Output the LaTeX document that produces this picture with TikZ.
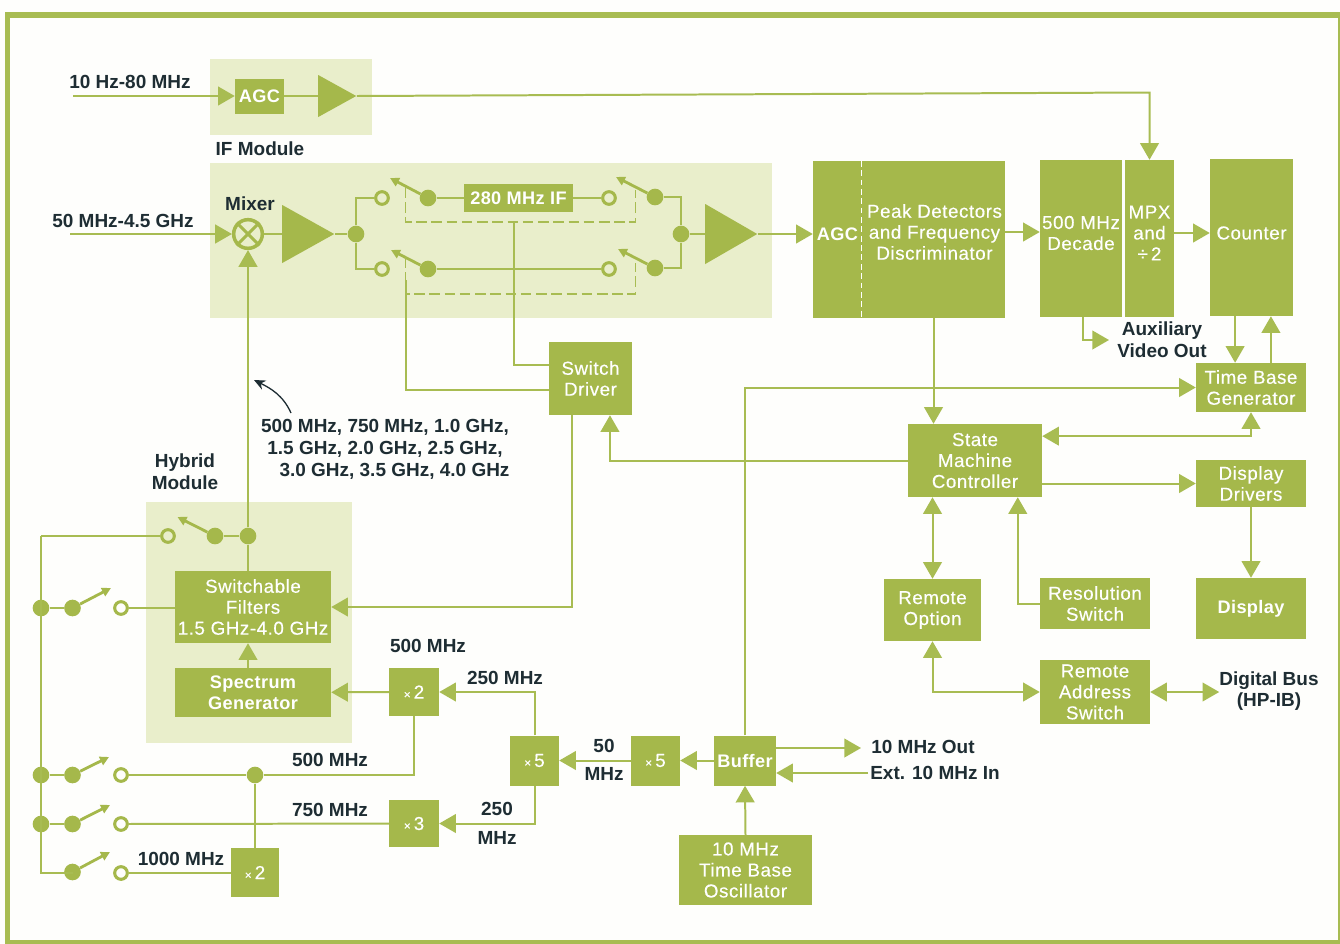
\documentclass[tikz,border=0pt]{standalone}
\usepackage{fontspec}
\setmainfont{Liberation Sans}
\newfontfamily\tagfont{Liberation Sans}[LetterSpace=3, FakeBold=0.4]
\newfontfamily\heavyfont{Liberation Sans}[LetterSpace=2]
\usepackage{xcolor}
\usetikzlibrary{arrows.meta, shapes.geometric, calc}

\definecolor{leafgreen}{HTML}{A5B84B}
\definecolor{wiregreen}{HTML}{A8BC52}
\definecolor{palegreen}{HTML}{E9EECB}
\definecolor{papercream}{HTML}{FEFEFC}
\definecolor{inkdark}{HTML}{1E2D33}

\tikzset{
    wh/.style 2 args={minimum width=#1*0.03cm, minimum height=#2*0.03cm},
    block/.style={fill=leafgreen, text=white, inner sep=0pt, align=center,
        font=\tagfont\fontsize{16}{17.9}\selectfont},
    blocktext/.style={text=white, inner sep=0pt, align=center,
        font=\tagfont\fontsize{16}{17.9}\selectfont},
    heavy/.style={font=\heavyfont\bfseries\fontsize{15.5}{17.9}\selectfont},
    tag/.style={text=inkdark, inner sep=0pt, align=center,
        font=\bfseries\fontsize{16.2}{18.5}\selectfont},
    band/.style={fill=palegreen, inner sep=0pt},
    wire/.style={draw=wiregreen, line width=1.7pt},
    gang/.style={draw=wiregreen, line width=1.6pt, dash pattern=on 9pt off 4pt},
    junct/.style={circle, fill=leafgreen, inner sep=0pt, minimum size=5mm},
    ring/.style={circle, draw=leafgreen, line width=2.6pt, inner sep=0pt, minimum size=3.8mm},
    lever/.style={draw=leafgreen, line width=2.4pt, -{Triangle[length=2.7mm,width=2.7mm]}},
    ampl/.style={isosceles triangle, isosceles triangle stretches, fill=leafgreen,
        inner sep=0pt, anchor=lower side},
}

\begin{document}
\begin{tikzpicture}[x=0.03cm, y=-0.03cm, >={Triangle[length=5mm,width=5.6mm]}]
    \useasboundingbox (0,0) rectangle (1340,943);
    \fill[papercream] (0,0) rectangle (1340,943);
    \draw[wiregreen, line width=4.4pt] (7.5,15) rectangle (1340.5,942.5);

    % Fondos de los modulos
    \node[band, wh={162}{76}] (ifband) at (291,97) {};
    \node[band, wh={562}{155}] (mainband) at (491,240.5) {};
    \node[band, wh={206}{241}] (hybband) at (249,622.5) {};

    % Modulo IF
    \node[tag] (inif) at (130,81.5) {10 Hz-80 MHz};
    \coordinate (inifend) at (73,96);
    \node[block, heavy, wh={49}{35}] (agcif) at (259.5,96) {AGC};
    \node[ampl, wh={42}{38}] (ampif) at (318,96) {};
    \node[tag] (iflab) at (260,149) {IF Module};
    \coordinate (mpxturn) at (1149.5,92.5);

    % Canal principal
    \node[tag] (inmain) at (123,221) {50 MHz-4.5 GHz};
    \coordinate (inmainend) at (70,234);
    \node[tag] (mixlab) at (250,204) {Mixer};
    \node[circle, draw=leafgreen, line width=3pt, inner sep=0pt, minimum size=8.6mm] (mixer) at (248,234) {};
    \node[ampl, wh={58}{52}] (ampa) at (282,234) {};
    \node[junct] (junl) at (356,234) {};
    \node[ring] (ringul) at (382,198) {};
    \node[junct] (poleul) at (428,198) {};
    \coordinate (tipul) at (390,178);
    \node[ring] (ringll) at (382,269) {};
    \node[junct] (polell) at (428,269) {};
    \coordinate (tipll) at (391,250);
    \node[block, heavy, wh={109}{28}] (ifbox) at (518.5,198) {280 MHz IF};
    \node[ring] (ringur) at (609,198) {};
    \node[junct] (poleur) at (655,197) {};
    \coordinate (tipur) at (616,177);
    \node[ring] (ringlr) at (609,269) {};
    \node[junct] (polelr) at (655,268) {};
    \coordinate (tiplr) at (618,249);
    \node[junct] (junr) at (681,234) {};
    \node[ampl, wh={60}{52}] (ampb) at (705,234) {};

    % Detectores y contador
    \node[block, heavy, wh={49}{157}] (agcdet) at (837.5,239.5) {};
    \node[block, wh={143}{157}] (peak) at (933.5,239.5) {};
    \node[blocktext, heavy] (agclab) at (837.5,234) {AGC};
    \node[blocktext] (peaklab) at (934.5,232) {Peak Detectors\\and Frequency\\Discriminator};
    \node[block, wh={82}{157}] (decade) at (1081,238.5) {};
    \node[blocktext] (decadelab) at (1081,233) {500 MHz\\Decade};
    \node[block, wh={49}{157}] (mpx) at (1149.5,238.5) {};
    \node[blocktext] (mpxlab) at (1149.5,233) {MPX\\and\\÷\,2};
    \node[block, wh={83}{157}] (counter) at (1251.5,237.5) {};
    \node[blocktext] (counterlab) at (1251.5,233) {Counter};
    \node[tag] (auxlab) at (1162,340) {Auxiliary\\Video Out};
    \coordinate (auxend) at (1109,340);
    \node[block, wh={110}{49}] (tbase) at (1251,387.5) {Time Base\\Generator};
    \node[block, wh={134}{73}] (state) at (975,460.5) {State\\Machine\\Controller};
    \node[block, wh={83}{73}] (swdrv) at (590.5,378.5) {Switch\\Driver};
    \node[block, wh={110}{47}] (drivers) at (1251,483.5) {Display\\Drivers};
    \node[block, heavy, wh={110}{61}] (display) at (1251,608.5) {Display};
    \node[block, wh={110}{51}] (resol) at (1095,603.5) {Resolution\\Switch};
    \node[block, wh={97}{62}] (remote) at (932.5,610) {Remote\\Option};
    \node[block, wh={110}{64}] (addr) at (1095,692) {Remote\\Address\\Switch};
    \node[tag] (buslab) at (1269,691) {Digital Bus\\(HP-IB)};

    % Modulo hibrido
    \node[tag] (hyblab) at (185,471.5) {Hybrid\\Module};
    \node[tag] (harmlab) at (385,449.5) {500 MHz, 750 MHz, 1.0 GHz,\\1.5 GHz, 2.0 GHz, 2.5 GHz,\\\hspace*{1em}3.0 GHz, 3.5 GHz, 4.0 GHz};
    \coordinate (notestart) at (291,413);
    \coordinate (noteend) at (254,380);
    \node[ring] (ringh) at (168,536) {};
    \node[junct] (poleh) at (215,536) {};
    \coordinate (tiph) at (177.5,517);
    \node[junct] (junh) at (248,536) {};
    \node[block, wh={156}{72}] (filters) at (253,607) {Switchable\\Filters\\1.5 GHz-4.0 GHz};
    \node[block, heavy, wh={156}{49}] (spectrum) at (253,692.5) {Spectrum\\Generator};

    % Multiplicadores
    \node[block, wh={50}{48}] (dblb) at (414,692) {{\fontsize{10}{10}\selectfont ×}\,2};
    \node[block, wh={50}{47}] (triple) at (414,823.5) {{\fontsize{10}{10}\selectfont ×}\,3};
    \node[block, wh={48}{49}] (dbla) at (255,872.5) {{\fontsize{10}{10}\selectfont ×}\,2};
    \node[block, wh={49}{50}] (quinb) at (534.5,760.5) {{\fontsize{10}{10}\selectfont ×}\,5};
    \node[block, wh={49}{50}] (quina) at (655.5,760.5) {{\fontsize{10}{10}\selectfont ×}\,5};
    \node[block, heavy, wh={62}{50}] (buffer) at (745,760.5) {Buffer};
    \node[block, wh={133}{70}] (osc) at (745.5,870) {10 MHz\\Time Base\\Oscillator};
    \node[tag] (mhzb) at (428,646) {500 MHz};
    \node[tag] (mhzc) at (505,678) {250 MHz};
    \node[tag] (mhzd) at (330,760) {500 MHz};
    \node[tag] (mhze) at (330,810) {750 MHz};
    \node[tag] (mhzf) at (181,859) {1000 MHz};
    \node[tag] (mhzg) at (497,823.5) {250\\[6pt]MHz};
    \node[tag] (mhzh) at (604,760) {50\\[6pt]MHz};
    \node[tag] (outlab) at (923,747) {10 MHz Out};
    \node[tag] (extlab) at (935,773) {Ext. 10 MHz In};
    \coordinate (bufout) at (861,748);
    \coordinate (bufin) at (868,773);

    % Conmutadores de la izquierda
    \node[junct] (busa) at (41,608) {};
    \node[junct] (busb) at (41,775) {};
    \node[junct] (busc) at (41,824) {};
    \coordinate (busd) at (41,873);
    \coordinate (bustop) at (41,536);
    \node[junct] (polea) at (72.5,608) {};
    \node[junct] (poleb) at (72.5,775) {};
    \node[junct] (polec) at (72.5,824) {};
    \node[junct] (poled) at (72.5,872) {};
    \node[ring] (ringa) at (121,608) {};
    \node[ring] (ringb) at (121,775) {};
    \node[ring] (ringc) at (121,824) {};
    \node[ring] (ringd) at (121,873) {};
    \coordinate (tipa) at (111,588);
    \coordinate (tipb) at (109,757);
    \coordinate (tipc) at (110,805);
    \coordinate (tipd) at (110,852);
    \node[junct] (tap) at (255,775) {};

    % Flechas del canal principal
    \draw[->, wire] (inifend) -- (agcif);
    \draw[wire] (agcif) -- (ampif.lower side);
    \draw[->, wire] (ampif.apex) -- (mpxturn) -- (mpx.north);
    \draw[->, wire] (inmainend) -- (mixer);
    \draw[wire] (mixer) -- (ampa.lower side);
    \draw[wire] (ampa.apex) -- (junl);
    \draw[wire] (junl) |- (ringul);
    \draw[wire] (junl) |- (ringll);
    \draw[wire] (poleul) -- (ifbox);
    \draw[wire] (ifbox) -- (ringur);
    \draw[wire] (polell) -- (ringlr);
    \draw[wire] (poleur) -| (junr);
    \draw[wire] (polelr) -| (junr);
    \draw[wire] (junr) -- (ampb.lower side);
    \draw[->, wire] (ampb.apex) -- (ampb.apex -| agcdet.west);
    \draw[leafgreen, line width=2.6pt] (mixer.45) -- (mixer.225);
    \draw[leafgreen, line width=2.6pt] (mixer.135) -- (mixer.315);

    % Palancas
    \foreach \p/\t in {poleul/tipul, polell/tipll, poleur/tipur, polelr/tiplr,
        poleh/tiph, polea/tipa, poleb/tipb, polec/tipc, poled/tipd}
        \draw[lever] (\p) -- (\t);

    % Enlaces punteados de los conmutadores
    \coordinate (ganga) at (405.5,187);
    \coordinate (gangb) at (635.5,190);
    \coordinate (gangc) at (405.5,257);
    \coordinate (gangd) at (635.5,263);
    \coordinate (gangmid) at (514,222);
    \coordinate (gangfoot) at (405.5,280);
    \draw[gang] (ganga) -- (405.5,222) -- (635.5,222) -- (gangb);
    \draw[gang] (gangc) -- (405.5,294) -- (635.5,294) -- (gangd);
    \draw[wire] (gangmid) |- ([yshift=11.5pt]swdrv.west);
    \draw[wire] (gangfoot) |- ([yshift=-9.8pt]swdrv.west);

    % Detectores, contador y controlador
    \draw[white, line width=1.2pt, dash pattern=on 5pt off 3pt] (peak.north west) -- (peak.south west);
    \draw[->, wire] (peaklab -| peak.east) -- (peaklab -| decade.west);
    \draw[->, wire] (mpxlab -| mpx.east) -- (mpxlab -| counter.west);
    \draw[->, wire] ([xshift=1.7pt]decade.south) |- (auxend);
    \draw[->, wire] ([xshift=-14pt]counter.south) -- ([xshift=-14pt]counter.south |- tbase.north);
    \draw[->, wire] ([xshift=17pt]tbase.north) -- ([xshift=17pt]tbase.north |- counter.south);
    \draw[->, wire] (peak.south) -- (peak.south |- state.north);
    \draw[<->, wire] ([yshift=20.8pt]state.east) -| (tbase.south);
    \draw[->, wire] (state.east |- drivers.west) -- (drivers.west);
    \draw[->, wire] (drivers.south) -- (display.north);
    \draw[->, wire] (resol.west) -| ([xshift=36.5pt]state.south);
    \draw[<->, wire] (remote.north) -- (remote.north |- state.south);
    \draw[<->, wire] (remote.south) |- (addr.west);
    \draw[<->, wire] (addr.east) -- (addr.east -| buslab.west);
    \draw[->, wire] (state.west) -| ([xshift=16.6pt]swdrv.south);
    \draw[->, wire] (buffer.north) |- (tbase.west);

    % Flechas del modulo hibrido
    \draw[->, wire] (junh) -- (mixer);
    \draw[wire] (poleh) -- (junh);
    \draw[wire] (junh) -- (junh |- filters.north);
    \draw[->, wire] (junh |- spectrum.north) -- (junh |- filters.south);
    \draw[->, wire] ([xshift=-15.7pt]swdrv.south) |- (filters.east);
    \draw[->, wire] (dblb) -- (spectrum);
    \draw[wire] (bustop) -- (ringh);
    \draw[wire] (bustop) -- (busd) -- (poled |- busd);
    \draw[wire] (busa) -- (polea);
    \draw[wire] (busb) -- (poleb);
    \draw[wire] (busc) -- (polec);
    \draw[wire] (ringa) -- (filters.west |- ringa);
    \draw[wire] (ringb) -- (tap);
    \draw[wire] (tap) -| (dblb.south);
    \draw[wire] (tap) -- (dbla.north);
    \draw[wire] (ringc) -- (triple);
    \draw[wire] (ringd) -- (dbla.west |- ringd);
    \draw[->, wire] (quinb.north) |- (dblb.east);
    \draw[->, wire] (quinb.south) |- (triple.east);
    \draw[->, wire] (quina) -- (quinb);
    \draw[->, wire] (buffer) -- (quina);
    \draw[->, wire] (osc.north) -- (buffer.south);
    \draw[->, wire] (bufout -| buffer.east) -- (bufout);
    \draw[->, wire] (bufin) -- (bufin -| buffer.east);

    % Flecha curva
    \draw[-{Stealth[length=3.4mm,width=3mm]}, inkdark, line width=1.1pt] (notestart) .. controls (283,395) and (270,388) .. (noteend);
\end{tikzpicture}
\end{document}
